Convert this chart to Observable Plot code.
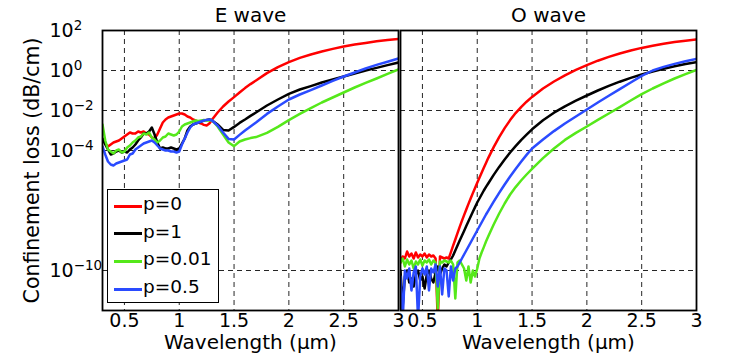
<!DOCTYPE html>
<html><head><meta charset="utf-8">
<script src="https://cdn.jsdelivr.net/npm/d3@7"></script>
<script src="https://cdn.jsdelivr.net/npm/@observablehq/plot@0.6"></script>
<style>
body{margin:0;background:#fff;}
#wrap{position:relative;width:747px;height:360px;overflow:hidden;font-family:"DejaVu Sans",sans-serif;}
#legend{position:absolute;left:107px;top:189px;width:112px;height:114px;border:1.5px solid #000;background:#fff;box-sizing:border-box;}
#legend .item{position:absolute;left:0;height:20px;width:110px;}
#legend .sw{position:absolute;left:6px;top:8.5px;width:28px;height:3px;}
#legend .lb{position:absolute;left:35px;top:-3px;font-size:18.5px;line-height:22px;color:#000;white-space:nowrap;}
</style></head>
<body><div id="wrap"></div>
<script>
const panels = ["E wave", "O wave"];
const seriesNames = ["p=0", "p=1", "p=0.01", "p=0.5"];
const seriesColors = ["#ff0000", "#000000", "#55e81a", "#2a4bff"];
const xLabel = "Wavelength (µm)";
const yLabel = "Confinement loss (dB/cm)";
const xTicks = [0.5, 1, 1.5, 2, 2.5, 3];
const xTickLabels = ["0.5", "1", "1.5", "2", "2.5", "3"];
const xGrid = [0.5, 1, 1.5, 2, 2.5];
const yTicks = [1e2, 1, 1e-2, 1e-4, 1e-10];
const yTickLabels = ["10^2", "10^0", "10^\u22122", "10^\u22124", "10^\u221210"];
const yGrid = [1, 1e-2, 1e-4, 1e-10];

// E wave: wavelength grid (µm) and log10 of loss (dB/cm) per series
const eX = [0.300,0.325,0.350,0.375,0.400,0.425,0.450,0.475,0.500,0.525,0.550,0.575,0.600,0.625,0.650,0.675,0.700,0.725,0.750,0.775,0.800,0.825,0.850,0.875,0.900,0.925,0.950,0.975,1.000,1.025,1.050,1.075,1.100,1.125,1.150,1.175,1.200,1.225,1.250,1.275,1.300,
  1.35,1.40,1.45,1.50,1.55,1.60,1.65,1.70,
  1.8,1.9,2.0,2.1,2.2,2.3,2.4,2.5,2.6,2.7,2.8,2.9,3.0];
const eRed = [-3.4,-3.65,-3.8,-3.7,-3.6,-3.55,-3.5,-3.4,-3.3,-3.2,-3.1,-3.15,-3.15,-3.05,-3.1,-3.05,-3.15,-3.2,-3.35,-3.4,-3.2,-2.9,-2.6,-2.45,-2.35,-2.3,-2.25,-2.2,-2.15,-2.15,-2.2,-2.3,-2.35,-2.45,-2.5,-2.6,-2.65,-2.72,-2.75,-2.65,-2.45,
  -2.1,-1.8,-1.55,-1.33,-1.1,-0.88,-0.68,-0.5,
  -0.13,0.17,0.42,0.63,0.8,0.95,1.08,1.2,1.3,1.38,1.46,1.52,1.58];
const eBlack = [-3.4,-3.7,-3.95,-4.2,-4.15,-4.05,-4.0,-4.1,-4.05,-4.1,-3.95,-3.85,-3.7,-3.5,-3.35,-3.15,-3.15,-3.05,-2.85,-3.2,-3.6,-3.9,-3.85,-3.9,-3.9,-3.85,-3.9,-3.95,-3.9,-3.65,-3.4,-3.0,-2.8,-2.7,-2.65,-2.6,-2.55,-2.5,-2.47,-2.45,-2.5,
  -2.7,-2.97,-3.0,-2.82,-2.62,-2.45,-2.27,-2.1,
  -1.75,-1.45,-1.17,-0.95,-0.78,-0.6,-0.45,-0.3,-0.15,0.0,0.13,0.27,0.4];
const eGreen = [-2.7,-3.5,-3.95,-4.05,-4.15,-4.0,-3.95,-4.1,-4.05,-3.85,-3.75,-3.6,-3.5,-3.35,-3.3,-3.15,-3.2,-3.1,-3.35,-3.45,-3.6,-3.5,-3.35,-3.3,-3.15,-3.2,-3.25,-3.2,-3.05,-2.8,-2.7,-2.65,-2.6,-2.55,-2.5,-2.52,-2.5,-2.48,-2.5,-2.5,-2.5,
  -2.8,-3.2,-3.6,-3.78,-3.55,-3.45,-3.38,-3.33,
  -3.12,-2.82,-2.48,-2.17,-1.88,-1.6,-1.35,-1.1,-0.85,-0.62,-0.4,-0.17,0.05];
const eBlue = [-3.8,-4.2,-4.55,-4.7,-4.75,-4.65,-4.6,-4.55,-4.5,-4.45,-4.2,-4.15,-3.95,-3.85,-3.75,-3.65,-3.6,-3.55,-3.5,-3.6,-3.75,-3.9,-3.95,-4.0,-4.0,-4.05,-4.05,-4.1,-4.05,-3.7,-3.4,-3.1,-2.85,-2.7,-2.65,-2.6,-2.55,-2.5,-2.47,-2.45,-2.5,
  -2.75,-3.1,-3.42,-3.45,-3.22,-3.0,-2.8,-2.6,
  -2.17,-1.8,-1.45,-1.2,-0.98,-0.75,-0.52,-0.3,-0.1,0.1,0.28,0.44,0.6];

// O wave: wavelength grid (µm) and log10 of loss (dB/cm) per series
const oX = [0.30,0.32,0.34,0.36,0.38,0.40,0.42,0.44,0.46,0.48,0.50,0.52,0.54,0.56,0.58,0.60,0.62,0.64,0.66,0.68,0.70,0.72,0.74,0.76,0.78,0.80,0.82,0.84,0.86,0.88,0.90,0.92,0.94,0.96,0.98,1.00,1.02,1.04,1.06,1.08,1.10,
  1.15,1.20,1.25,1.30,1.35,1.40,1.45,1.50,
  1.6,1.7,1.8,1.9,2.0,2.1,2.2,2.3,2.4,2.5,2.6,2.7,2.8,2.9,3.0];
const oRed = [-9.6,-9.3,-9.4,-9.05,-9.3,-9.15,-9.4,-9.1,-9.35,-9.2,-9.3,-9.15,-9.35,-9.2,-9.3,-9.25,-9.4,-12.5,-9.3,-9.35,-9.4,-9.35,-9.4,
  -9.08,-8.76,-8.45,-8.13,-7.82,-7.52,-7.23,-6.95,-6.67,-6.4,-6.13,-5.87,-5.61,-5.36,-5.11,-4.86,-4.62,-4.38,
  -3.83,-3.33,-2.88,-2.48,-2.13,-1.83,-1.56,-1.32,
  -0.9,-0.55,-0.24,0.03,0.27,0.49,0.68,0.85,1.0,1.13,1.24,1.34,1.42,1.49,1.55];
const oBlack = [-10.0,-11.8,-10.3,-10.0,-10.6,-10.4,-10.8,-10.2,-10.0,-10.5,-10.3,-10.9,-10.2,-10.0,-10.4,-10.6,-10.1,-9.8,-10.2,-9.9,-9.7,-9.8,-9.6,
  -9.45,-9.25,-9.0,-8.75,-8.5,-8.26,-8.02,-7.78,-7.54,-7.3,-7.06,-6.83,-6.6,-6.4,-6.2,-6.0,-5.82,-5.65,
  -5.22,-4.82,-4.45,-4.1,-3.78,-3.48,-3.21,-2.94,
  -2.49,-2.11,-1.79,-1.51,-1.25,-1.0,-0.77,-0.56,-0.37,-0.2,-0.05,0.09,0.21,0.32,0.42];
const oGreen = [-9.6,-9.4,-9.8,-9.45,-9.7,-9.5,-9.9,-9.55,-9.7,-9.45,-9.75,-9.5,-9.6,-9.45,-9.7,-9.5,-9.6,-11.9,-9.55,-9.6,-9.5,-9.55,-9.6,-9.5,-9.7,-11.4,-9.6,-9.5,-9.7,-9.9,-10.5,-9.8,-10.6,-10.0,-10.3,-9.9,
  -9.4,-9.1,-8.83,-8.55,-8.3,
  -7.7,-7.15,-6.65,-6.2,-5.83,-5.5,-5.2,-4.92,
  -4.38,-3.9,-3.47,-3.12,-2.8,-2.47,-2.15,-1.83,-1.5,-1.18,-0.9,-0.64,-0.4,-0.18,0.03];
const oBlue = [-10.3,-12.5,-10.0,-10.4,-9.9,-11.0,-10.1,-9.8,-12.4,-10.3,-9.9,-10.2,-9.8,-11.0,-9.9,-10.1,-9.7,-10.8,-9.8,-11.2,-9.9,-10.0,-11.3,-9.8,-10.5,-9.9,-9.8,
  -9.6,-9.4,-9.2,-9.0,-8.8,-8.6,-8.4,-8.2,-8.0,-7.8,-7.6,-7.4,-7.2,-7.02,
  -6.56,-6.12,-5.7,-5.3,-4.92,-4.56,-4.22,-3.9,
  -3.45,-3.03,-2.65,-2.3,-1.95,-1.6,-1.26,-0.93,-0.6,-0.27,0.0,0.18,0.33,0.46,0.58];

const rows = [];
function add(panel, name, xs, logs) {
  xs.forEach((x, i) => rows.push({panel, name, x, y: Math.pow(10, logs[i])}));
}
add(panels[0], seriesNames[0], eX, eRed);
add(panels[0], seriesNames[1], eX, eBlack);
add(panels[0], seriesNames[2], eX, eGreen);
add(panels[0], seriesNames[3], eX, eBlue);
add(panels[1], seriesNames[0], oX, oRed);
add(panels[1], seriesNames[1], oX, oBlack);
add(panels[1], seriesNames[2], oX, oGreen);
add(panels[1], seriesNames[3], oX, oBlue);

const chart = Plot.plot({
  width: 747, height: 360,
  marginLeft: 101, marginRight: 51, marginTop: 30, marginBottom: 50,
  style: {fontFamily: "DejaVu Sans", fontSize: "19px", color: "#000", background: "transparent", overflow: "visible"},
  fx: {domain: panels, paddingInner: 0.007, paddingOuter: 0, label: null},
  x: {domain: [0.3, 3]},
  y: {type: "log", domain: [1e-12, 1e2]},
  color: {domain: seriesNames, range: seriesColors},
  marks: [
    Plot.gridX(xGrid, {stroke: "#000", strokeOpacity: 0.85, strokeWidth: 1, strokeDasharray: "5,4"}),
    Plot.gridY(yGrid, {stroke: "#000", strokeOpacity: 0.85, strokeWidth: 1, strokeDasharray: "5,4"}),
    Plot.line(rows, {x: "x", y: "y", z: "name", stroke: "name", fx: "panel", strokeWidth: 2.5, clip: true}),
    Plot.frame({stroke: "#000", strokeWidth: 1.8}),
    Plot.axisFx({anchor: "top", tickSize: 0, tickPadding: 9, label: null, fontSize: 20}),
    Plot.axisX(xTicks, {tickFormat: d => xTickLabels[xTicks.indexOf(d)], tickSize: 0, tickPadding: 3, label: null, fontSize: 19}),
    Plot.axisY(yTicks, {tickFormat: d => yTickLabels[yTicks.indexOf(d)], tickSize: 0, tickPadding: 53, textAnchor: "start", label: null, fontSize: 19}),
    Plot.text(panels.map(p => ({panel: p, t: xLabel})), {fx: "panel", text: "t", frameAnchor: "bottom", dy: 38, fontSize: 20}),
    Plot.text([{panel: panels[0], t: yLabel}], {fx: "panel", text: "t", frameAnchor: "left", textAnchor: "middle", rotate: -90, dx: -70, fontSize: 20.5})
  ]
});

const ns = "http://www.w3.org/2000/svg";
chart.querySelectorAll('g[aria-label="y-axis tick label"] text').forEach(t => {
  const s = t.textContent;
  const parts = s.split("^");
  if (parts.length !== 2) return;
  t.textContent = "";
  const a = document.createElementNS(ns, "tspan");
  a.textContent = parts[0];
  const b = document.createElementNS(ns, "tspan");
  b.textContent = parts[1];
  b.setAttribute("dy", "-0.5em");
  b.setAttribute("font-size", "13.5px");
  t.append(a, b);
});

const wrap = document.getElementById("wrap");
wrap.appendChild(chart);

const legend = document.createElement("div");
legend.id = "legend";
seriesNames.forEach((name, i) => {
  const item = document.createElement("div");
  item.className = "item";
  item.style.top = (6 + i * 27.7) + "px";
  const sw = document.createElement("div");
  sw.className = "sw";
  sw.style.background = seriesColors[i];
  const lb = document.createElement("div");
  lb.className = "lb";
  lb.textContent = name;
  item.append(sw, lb);
  legend.appendChild(item);
});
wrap.appendChild(legend);
</script>
</body></html>
